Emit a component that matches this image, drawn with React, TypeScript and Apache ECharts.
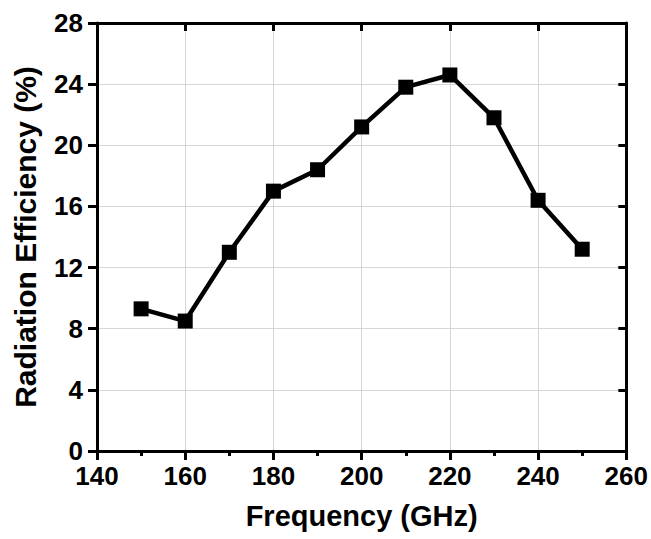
import React, { useEffect, useRef } from "react";
import * as echarts from "echarts";

const frequencies = [150, 160, 170, 180, 190, 200, 210, 220, 230, 240, 250];
const efficiency = [9.3, 8.5, 13.0, 17.0, 18.4, 21.2, 23.8, 24.6, 21.8, 16.4, 13.2];
const xTitle = "Frequency (GHz)";
const yTitle = "Radiation Efficiency (%)";

const FONT = "'Liberation Sans', Arial, Helvetica, sans-serif";

export default function App() {
  const ref = useRef<HTMLDivElement>(null);
  useEffect(() => {
    if (!ref.current) return;
    const chart = echarts.init(ref.current, undefined, { renderer: "svg" });
    const axisLine = { show: true, onZero: false, lineStyle: { color: "#000", width: 3 } };
    chart.setOption({
      animation: false,
      backgroundColor: "#fff",
      grid: { left: 97, top: 23, right: 23, bottom: 88, containLabel: false },
      xAxis: [
        {
          type: "value",
          min: 140,
          max: 260,
          interval: 20,
          position: "bottom",
          name: xTitle,
          nameLocation: "middle",
          nameGap: 50,
          nameTextStyle: { fontFamily: FONT, fontWeight: "bold", fontSize: 29, color: "#000" },
          axisLine,
          axisTick: { show: true, inside: false, length: 9, lineStyle: { color: "#000", width: 3 } },
          minorTick: { show: true, splitNumber: 2, length: 5, lineStyle: { color: "#000", width: 3 } },
          axisLabel: { fontFamily: FONT, fontWeight: "bold", fontSize: 26, color: "#000", margin: 12 },
          splitLine: { show: true, lineStyle: { color: "#d6d6d6", width: 1 } },
        },
        {
          type: "value",
          min: 140,
          max: 260,
          interval: 20,
          position: "top",
          axisLine,
          axisTick: { show: true, inside: true, length: 8, lineStyle: { color: "#000", width: 3 } },
          axisLabel: { show: false },
          splitLine: { show: false },
        },
      ],
      yAxis: [
        {
          type: "value",
          min: 0,
          max: 28,
          interval: 4,
          position: "left",
          name: yTitle,
          nameLocation: "middle",
          nameGap: 57,
          nameTextStyle: { fontFamily: FONT, fontWeight: "bold", fontSize: 30, color: "#000" },
          axisLine,
          axisTick: { show: true, inside: false, length: 9, lineStyle: { color: "#000", width: 3 } },
          axisLabel: { fontFamily: FONT, fontWeight: "bold", fontSize: 26, color: "#000", margin: 14 },
          splitLine: { show: true, lineStyle: { color: "#d6d6d6", width: 1 } },
        },
        {
          type: "value",
          min: 0,
          max: 28,
          interval: 4,
          position: "right",
          axisLine,
          axisTick: { show: true, inside: true, length: 8, lineStyle: { color: "#000", width: 3 } },
          axisLabel: { show: false },
          splitLine: { show: false },
        },
      ],
      series: [
        {
          type: "line",
          xAxisIndex: 0,
          yAxisIndex: 0,
          data: frequencies.map((f, i) => [f, efficiency[i]]),
          symbol: "rect",
          symbolSize: 15,
          itemStyle: { color: "#000" },
          lineStyle: { color: "#000", width: 4.5 },
        },
      ],
    });
    return () => chart.dispose();
  }, []);
  return <div ref={ref} style={{ width: 651, height: 539, position: "absolute", left: 0, top: 0 }} />;
}
